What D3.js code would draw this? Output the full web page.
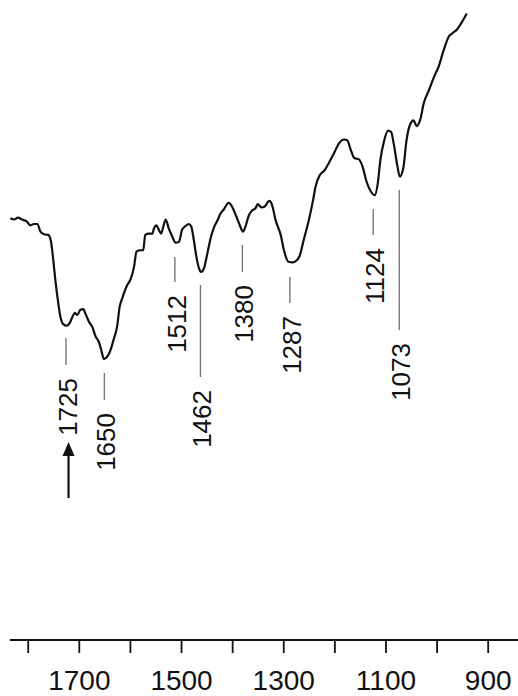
<!DOCTYPE html>
<html>
<head>
<meta charset="utf-8">
<script src="https://cdn.jsdelivr.net/npm/d3@7"></script>
<style>
  body { margin: 0; background: #fff; }
  svg { display: block; font-family: "Liberation Sans", Arial, sans-serif; }
</style>
</head>
<body>
<svg id="chart" width="518" height="696"></svg>
<script>
// wavenumber (cm-1) and transmittance (arbitrary %)
var wavenumbers = [1834, 1827, 1819, 1811, 1802, 1795, 1788, 1781, 1775, 1768, 1760, 1755, 1750, 1746, 1741,
    1736, 1731, 1723, 1718, 1713, 1708, 1703, 1697, 1691, 1687, 1680, 1674, 1667, 1661, 1656, 1651, 1644,
    1638, 1632, 1625, 1620, 1615, 1605, 1599, 1592, 1587, 1579, 1574, 1570, 1563, 1556, 1553, 1548, 1543,
    1539, 1534, 1530, 1524, 1517, 1511, 1504, 1498, 1491, 1485, 1480, 1475, 1470, 1465, 1461, 1455, 1449,
    1442, 1435, 1429, 1423, 1416, 1407, 1400, 1393, 1385, 1379, 1374, 1367, 1361, 1354, 1350, 1343, 1337,
    1327, 1322, 1315, 1305, 1298, 1290, 1282, 1274, 1268, 1260, 1250, 1241, 1237, 1228, 1219, 1211, 1201,
    1191, 1181, 1175, 1168, 1161, 1152, 1145, 1137, 1128, 1121, 1115, 1110, 1103, 1095, 1089, 1084, 1077,
    1072, 1065, 1059, 1051, 1045, 1039, 1032, 1025, 1015, 1005, 996, 986, 976, 969, 960, 950, 941];
var transmittance = [65.9, 65.7, 66.0, 65.7, 65.4, 64.8, 65.0, 65.0, 63.8, 63.4, 63.3, 62.5, 59.4, 56.3, 53.1,
    50.5, 49.4, 49.1, 49.5, 50.4, 51.1, 50.8, 51.6, 51.7, 51.0, 49.7, 49.0, 47.4, 46.6, 45.3, 43.9, 44.3,
    45.3, 46.9, 49.0, 52.1, 53.4, 55.5, 56.3, 58.3, 60.7, 60.9, 60.9, 63.3, 63.5, 63.5, 64.3, 64.8, 64.0,
    63.5, 64.8, 65.7, 64.3, 63.0, 62.1, 62.2, 64.1, 64.7, 65.0, 64.6, 62.5, 59.9, 58.1, 57.5, 58.1, 60.2,
    62.8, 64.6, 65.5, 66.6, 67.3, 68.3, 67.7, 66.4, 64.8, 63.8, 64.6, 66.4, 67.1, 67.5, 68.1, 67.6, 67.7,
    68.6, 68.0, 65.6, 63.3, 60.7, 59.1, 59.0, 59.3, 60.0, 62.5, 65.6, 69.0, 70.8, 72.7, 73.4, 74.5, 76.0,
    77.6, 78.2, 78.1, 76.6, 75.3, 75.1, 74.0, 71.6, 70.0, 69.5, 71.4, 75.0, 77.9, 79.6, 79.4, 77.6, 74.2,
    72.4, 73.8, 78.0, 80.7, 81.2, 80.3, 81.3, 83.9, 85.9, 88.0, 89.6, 92.2, 94.3, 94.8, 95.4, 96.6, 97.9];

var peaks = [1725, 1650, 1512, 1462, 1380, 1287, 1124, 1073];
var tickValues = [1800, 1700, 1600, 1500, 1400, 1300, 1200, 1100, 1000, 900];
var tickLabels = [1700, 1500, 1300, 1100, 900];

// marker line top / bottom in px (layout only)
var markLines = [[338, 365], [373, 400], [257, 282], [285, 377], [245, 272], [277, 303], [209, 235], [190, 330]];

var svg = d3.select("#chart");

var x = d3.scaleLinear().domain([1800, 900]).range([27.7, 487.7]);
var y = d3.scaleLinear().domain([0, 100]).range([640, 0]);

var data = wavenumbers.map(function (w, i) { return { w: w, t: transmittance[i] }; });

var line = d3.line()
    .x(function (d) { return x(d.w); })
    .y(function (d) { return y(d.t); })
    .curve(d3.curveMonotoneX);

svg.append("path")
    .datum(data)
    .attr("fill", "none")
    .attr("stroke", "#111")
    .attr("stroke-width", 2.2)
    .attr("stroke-linejoin", "round")
    .attr("d", line);

// peak markers
var marks = svg.selectAll("g.mark")
    .data(peaks)
    .enter()
    .append("g")
    .attr("class", "mark");

marks.append("line")
    .attr("x1", function (d) { return x(d); })
    .attr("x2", function (d) { return x(d); })
    .attr("y1", function (d, i) { return markLines[i][0]; })
    .attr("y2", function (d, i) { return markLines[i][1]; })
    .attr("stroke", "#777")
    .attr("stroke-width", 1.4);

marks.append("text")
    .attr("transform", function (d, i) {
        return "translate(" + (x(d) + 1.5) + "," + (markLines[i][1] + 13) + ") rotate(-90)";
    })
    .attr("text-anchor", "end")
    .attr("dy", "0.36em")
    .attr("font-size", 26)
    .attr("fill", "#111")
    .text(function (d) { return d; });

// arrow below the 1725 label
var ax = x(peaks[0]) + 2.5;
svg.append("line")
    .attr("x1", ax).attr("x2", ax)
    .attr("y1", 498).attr("y2", 452)
    .attr("stroke", "#111")
    .attr("stroke-width", 2.2);
svg.append("path")
    .attr("d", "M" + ax + ",442L" + (ax - 6) + ",456L" + (ax + 6) + ",456Z")
    .attr("fill", "#111");

// x axis
var axisY = 640;
var axis = d3.axisBottom(x)
    .tickValues(tickValues)
    .tickSize(13)
    .tickPadding(10)
    .tickFormat(function (d) { return tickLabels.indexOf(d) >= 0 ? d : ""; });

var gx = svg.append("g")
    .attr("transform", "translate(0," + axisY + ")")
    .call(axis);

gx.select(".domain").remove();
gx.selectAll(".tick line").attr("stroke", "#111").attr("stroke-width", 1.8);
gx.selectAll(".tick text")
    .attr("font-size", 28)
    .attr("font-family", "'Liberation Sans', Arial, sans-serif")
    .attr("fill", "#111")
    .attr("y", 50)
    .attr("dy", 0);

svg.append("line")
    .attr("x1", x(1835)).attr("x2", x(840))
    .attr("y1", axisY).attr("y2", axisY)
    .attr("stroke", "#111")
    .attr("stroke-width", 1.8);
</script>
</body>
</html>
